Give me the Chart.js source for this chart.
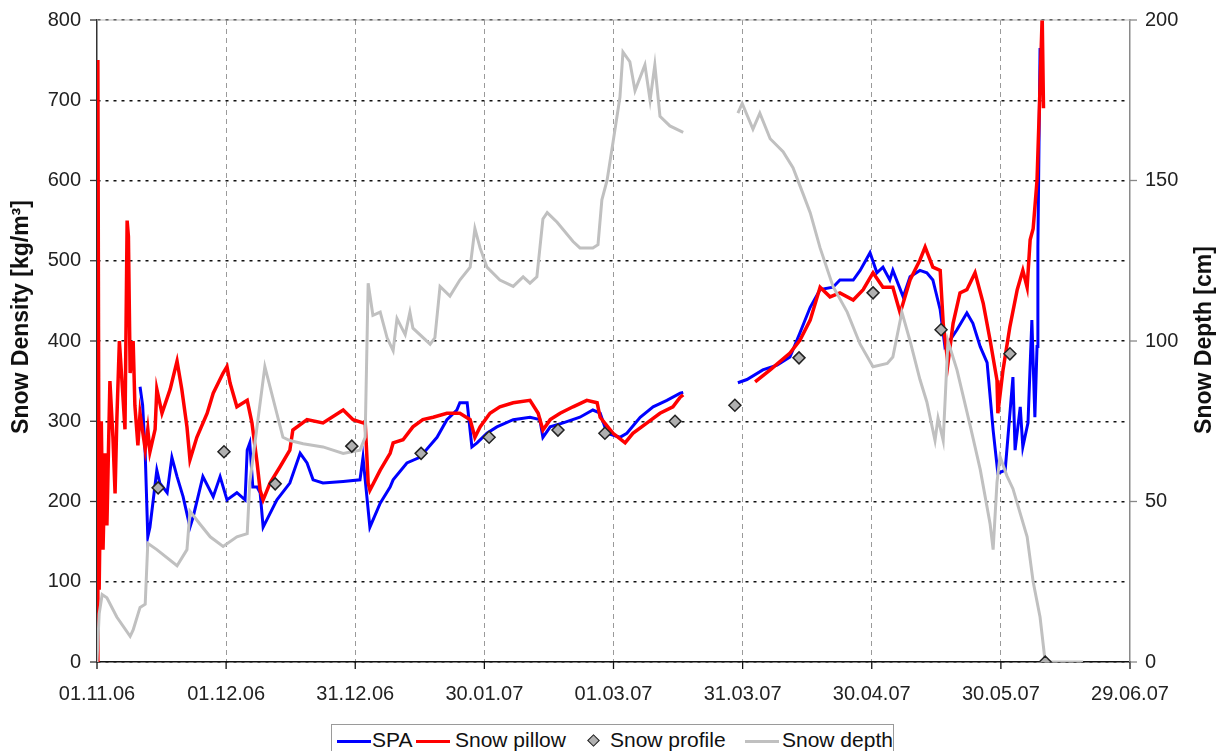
<!DOCTYPE html>
<html>
<head>
<meta charset="utf-8">
<title>Snow density</title>
<script src="https://cdn.jsdelivr.net/npm/chart.js@4.4.1/dist/chart.umd.min.js"></script>
<style>
  body { margin: 0; background: #fff; font-family: "Liberation Sans", Arial, sans-serif; }
  #wrap { position: relative; width: 1222px; height: 751px; overflow: hidden; }
  #legend { position: absolute; left: 331px; top: 724px; width: 561px; height: 40px;
            border: 1px solid #9a9a9a; background: #fff; font-size: 21px; color: #111; }
  #legend span { position: absolute; }
  #legend .ln { top: 15px; width: 34px; height: 3px; }
  #legend .tx { top: 3px; line-height: 24px; white-space: nowrap; }
  #legend .dm { top: 11px; width: 7px; height: 7px; background: #b0b0b0;
                border: 1.5px solid #222; transform: rotate(45deg); }
</style>
</head>
<body>
<div id="wrap">
  <canvas id="snowChart"></canvas>
  <div id="legend">
    <span class="ln" style="left:5px;background:#0000ff"></span>
    <span class="tx" style="left:40px">SPA</span>
    <span class="ln" style="left:84px;background:#ff0000"></span>
    <span class="tx" style="left:123px">Snow pillow</span>
    <span class="dm" style="left:257px"></span>
    <span class="tx" style="left:278px">Snow profile</span>
    <span class="ln" style="left:413px;background:#c0c0c0"></span>
    <span class="tx" style="left:450px">Snow depth</span>
  </div>
</div>
<script>
'use strict';

// x = Tage seit 01.11.06, Achsenbeschriftung alle 30 Tage
const xTickLabels = ['01.11.06', '01.12.06', '31.12.06', '30.01.07', '01.03.07',
                     '31.03.07', '30.04.07', '30.05.07', '29.06.07'];

// SPA (kg/m³), Lücke im März
const spaDays = [10.0, 10.6, 11.2, 11.8, 12.3, 13.9, 14.6, 16.3, 17.4, 18.6, 20.0, 21.6, 22.3, 24.6,
  27.0, 28.6, 30.2, 32.5, 34.4, 34.9, 35.5, 36.2, 37.2, 37.9, 38.6, 41.8, 44.8, 47.2, 48.8, 50.2,
  52.5, 57.2, 61.1, 61.8, 63.4, 65.8, 68.1, 68.8, 72.0, 75.0, 79.0, 81.3, 83.6, 84.3, 86.0, 87.1,
  88.3, 90.6, 92.9, 96.7, 100.6, 102.9, 103.6, 105.3, 108.3, 112.2, 115.2, 116.9, 118.5, 121.5,
  123.1, 126.2, 129.2, 132.4, 135.5, 136.2, 142,
  148.9, 151.0, 154.7, 158.0, 161.0, 163.3, 165.7, 168.0, 171.0, 172.6, 175.7, 177.3, 179.6, 181.2,
  182.6, 184.2, 184.9, 187.3, 188.9, 191.2, 192.8, 194.2, 195.9, 197.0, 198.2, 199.8, 202.1, 203.5,
  205.2, 206.8, 208.2, 209.3, 211.0, 212.8, 213.3, 214.5, 215.1, 216.3, 217.2, 217.9, 218.4, 218.6,
  219.1];
const spaValues = [343, 320, 260, 156, 168, 239, 223, 211, 255, 231, 206, 168, 180, 231,
  206, 231, 202, 211, 202, 264, 273, 218, 218, 211, 168, 202, 223, 260, 248, 227,
  223, 225, 227, 255, 168, 198, 218, 227, 248, 255, 280, 302, 314, 323, 323, 268,
  273, 285, 293, 302, 305, 302, 280, 293, 298, 305, 314, 310, 285, 280,
  285, 305, 318, 326, 335, 336, null,
  348, 352, 364, 370, 380, 410, 442, 464, 467, 476, 476, 488, 510, 485,
  492, 476, 488, 455, 480, 488, 485, 476, 439, 393, 401, 414, 435, 422,
  393, 373, 289, 235, 239, 355, 264, 318, 268, 298, 426, 305, 393, 517,
  765];

// Schneekissen (kg/m³)
const pillowDays = [0, 0.2, 0.5, 1.0, 1.4, 1.9, 2.3, 3.0, 3.7, 4.2, 4.6, 5.2, 5.8, 6.5, 7.0, 7.3,
  7.7, 8.4, 8.8, 9.5, 10.0, 11.2, 11.8, 12.3, 13.5, 13.9, 15.1, 17.0, 18.6, 19.7, 20.9, 21.6,
  23.2, 25.6, 27.0, 29.3, 30.2, 30.9, 32.5, 34.9, 36.0, 37.2, 37.9, 38.6, 40.2, 42.5, 44.8, 45.5,
  48.8, 52.5, 57.2, 59.5, 61.8, 62.3, 63.0, 63.4, 65.8, 68.1, 68.8, 71.1, 73.4, 75.7, 78.1, 81.3,
  84.3, 86.7, 87.8, 89.0, 91.3, 93.6, 96.7, 100.6, 102.5, 103.6, 105.3, 107.6, 110.6, 113.8, 116.2,
  116.9, 119.9, 122.7, 124.5, 127.8, 130.8, 133.8, 135.5, 136.2, 142,
  152.9, 156.4, 161.0, 163.3, 165.7, 168.0, 170.3, 172.6, 175.7, 178.0, 180.3, 182.6, 184.9, 186.6,
  188.9, 191.2, 192.4, 194.2, 195.9, 196.6, 197.7, 198.9, 200.5, 202.1, 204.0, 205.9, 207.5, 209.1,
  209.3, 210.5, 212.1, 213.8, 215.1, 216.1, 216.8, 217.5, 218.4, 219.0, 219.6, 219.9];
const pillowValues = [0, 750, 90, 300, 140, 260, 170, 350, 280, 210, 300, 400, 350, 290, 550, 530,
  360, 400, 320, 270, 310, 265, 290, 262, 290, 340, 310, 340, 375, 340, 293, 252,
  280, 310, 335, 360, 368, 348, 318, 326, 298, 248, 214, 202, 223, 243, 264, 289,
  302, 298, 314, 302, 298, 300, 223, 214, 239, 260, 273, 277, 293, 302, 305, 310,
  310, 302, 280, 293, 310, 318, 323, 326, 310, 289, 302, 310, 318, 326, 323,
  305, 285, 273, 285, 298, 310, 318, 330, 333, null,
  349, 364, 385, 401, 426, 467, 455, 460, 451, 464, 485, 467, 467, 435,
  476, 501, 517, 492, 488, 422, 372, 422, 460, 464, 485, 447, 401, 351,
  310, 364, 418, 464, 488, 467, 526, 540, 600, 700, 805, 690];

// Schneeprofile (kg/m³)
const profileDays = [14.2, 29.5, 41.4, 59.2, 75.3, 91.1, 107.1, 118.0, 134.3, 148.2, 163.1,
  180.3, 196.1, 212.1, 220.3];
const profileValues = [217, 262, 222, 269, 260, 280, 289, 285, 300, 320, 379, 460, 414, 384, 0];

// Schneehöhe (cm), rechte Achse
const depthDays = [0, 0.5, 1.2, 2.3, 4.6, 7.7, 8.4, 10.0, 11.2, 11.8, 13.9, 18.6, 20.9, 21.6, 23.9,
  26.3, 29.3, 32.5, 34.9, 35.5, 39.0, 43.2, 44.8, 47.9, 52.5, 57.2, 61.1, 62.3, 63.0, 64.1, 65.8,
  67.4, 68.8, 69.7, 71.6, 72.7, 73.4, 77.4, 78.5, 79.7, 82.0, 84.3, 86.7, 87.8, 89.0, 90.6, 93.6,
  96.7, 99.0, 100.6, 102.2, 103.6, 104.6, 106.9, 110.6, 112.2, 115.2, 116.4, 117.3, 118.5, 119.9,
  121.5, 122.2, 123.8, 125.0, 127.3, 128.5, 129.6, 130.8, 133.1, 136.2, 142,
  148.9, 149.9, 152.4, 154.0, 156.4, 159.4, 161.7, 164.0, 165.7, 168.0, 171.0, 174.3, 177.3, 180.3,
  183.6, 184.9, 187.0, 188.9, 191.2, 192.8, 194.7, 195.4, 196.6, 197.7, 199.8, 202.8, 205.2, 207.5,
  208.2, 209.1, 209.8, 211.4, 212.8, 216.1, 217.5, 219.1, 220.3, 229.1];
const depthValues = [0, 15, 21, 20, 14, 8, 10, 17, 18, 37, 35, 30, 35, 47, 43,
  39, 36, 39, 40, 56, 92, 70, 69, 68, 67, 65, 66, 70, 118, 108, 109,
  101, 97, 107, 102, 109, 104, 99, 101, 117, 114, 119, 123, 135, 129, 123, 119,
  117, 120, 118, 120, 138, 140, 137, 131, 129, 129, 130, 144, 150, 162,
  176, 190, 187, 178, 186, 175, 186, 170, 167, 165, null,
  171, 174, 166, 171, 163, 159, 154, 146, 140, 129, 117, 109, 99, 92,
  93, 95, 109, 100, 88, 81, 69, 76, 69, 100, 91, 74, 60, 43,
  35, 56, 64, 58, 54, 39, 25, 14, 0, 0];

const pts = (days, vals) => days.map((d, i) => ({ x: d, y: vals[i] }));

const tickFont = { family: '"Liberation Sans", Arial, sans-serif', size: 20 };
const titleFont = 'bold 23px "Liberation Sans", Arial, sans-serif';

// Achsentitel (beide von unten nach oben), Tick-Striche, Rahmen
const extras = {
  id: 'extras',
  afterDraw(chart) {
    const { ctx, chartArea: a, scales } = chart;
    ctx.save();
    ctx.strokeStyle = '#b5b5b5';
    ctx.lineWidth = 1;
    ctx.beginPath();
    ctx.moveTo(a.left, a.top);
    ctx.lineTo(a.right, a.top);
    ctx.stroke();

    const tick = (color, x1, y1, x2, y2) => {
      ctx.strokeStyle = color;
      ctx.lineWidth = 1.3;
      ctx.beginPath();
      ctx.moveTo(x1, y1);
      ctx.lineTo(x2, y2);
      ctx.stroke();
    };
    scales.x.ticks.forEach(t => {
      const px = scales.x.getPixelForValue(t.value);
      tick('#111', px, a.bottom, px, a.bottom + 7);
    });
    scales.y.ticks.forEach(t => {
      const py = scales.y.getPixelForValue(t.value);
      tick('#333', a.left - 7, py, a.left, py);
    });
    scales.y2.ticks.forEach(t => {
      const py = scales.y2.getPixelForValue(t.value);
      tick('#888', a.right, py, a.right + 7, py);
    });

    ctx.fillStyle = '#111';
    ctx.font = titleFont;
    ctx.textAlign = 'center';
    ctx.textBaseline = 'middle';
    [['Snow Density [kg/m³]', 22, 317], ['Snow Depth [cm]', 1205, 340]].forEach(([txt, x, y]) => {
      ctx.save();
      ctx.translate(x, y);
      ctx.rotate(-Math.PI / 2);
      ctx.fillText(txt, 0, 0);
      ctx.restore();
    });
    ctx.restore();
  }
};

const fixY = w => s => { s.width = w; s.paddingTop = 0; s.paddingBottom = 0; };

new Chart(document.getElementById('snowChart'), {
  type: 'line',
  data: {
    datasets: [{
      label: 'SPA',
      data: pts(spaDays, spaValues),
      borderColor: '#0000ff',
      borderWidth: 3,
      pointRadius: 0,
      yAxisID: 'y',
      order: 4
    },
    {
      label: 'Snow pillow',
      data: pts(pillowDays, pillowValues),
      borderColor: '#ff0000',
      borderWidth: 3.5,
      pointRadius: 0,
      yAxisID: 'y',
      order: 3
    },
    {
      label: 'Snow depth',
      data: pts(depthDays, depthValues),
      borderColor: '#c0c0c0',
      borderWidth: 3,
      pointRadius: 0,
      yAxisID: 'y2',
      order: 2
    },
    {
      label: 'Snow profile',
      data: pts(profileDays, profileValues),
      showLine: false,
      pointStyle: 'rectRot',
      pointRadius: 6,
      backgroundColor: '#b0b0b0',
      borderColor: '#222',
      borderWidth: 1.5,
      yAxisID: 'y',
      order: 1
    }]
  },
  options: {
    responsive: true,
    maintainAspectRatio: false,
    animation: false,
    layout: { padding: { top: 20, left: 0, right: 0, bottom: 0 } },
    plugins: { legend: { display: false }, tooltip: { enabled: false } },
    scales: {
      x: {
        type: 'linear',
        min: 0, max: 240,
        afterFit: s => { s.height = 89; s.paddingLeft = 0; s.paddingRight = 0; },
        ticks: {
          stepSize: 30,
          padding: 20,
          maxRotation: 0,
          color: '#222',
          font: tickFont,
          callback: v => xTickLabels[Math.round(v / 30)]
        },
        grid: {
          color: ctx => (ctx.tick && (ctx.tick.value === 0 || ctx.tick.value === 240)) ? 'rgba(0,0,0,0)' : '#9a9a9a',
          lineWidth: 1,
          drawTicks: false
        },
        border: { color: '#111', width: 1.5, dash: [5, 4] }
      },
      y: {
        position: 'left',
        min: 0, max: 800,
        afterFit: fixY(97),
        ticks: { stepSize: 100, padding: 16, color: '#222', font: tickFont },
        grid: { color: '#111', lineWidth: 1.4, drawTicks: false },
        border: { color: '#333', width: 1.5, dash: [3, 5] }
      },
      y2: {
        position: 'right',
        min: 0, max: 200,
        afterFit: fixY(92),
        ticks: { stepSize: 50, padding: 15, color: '#222', font: tickFont },
        grid: { display: false, drawTicks: false },
        border: { color: '#8a8a8a', width: 1.5 }
      }
    }
  },
  plugins: [extras]
});
</script>
</body>
</html>
